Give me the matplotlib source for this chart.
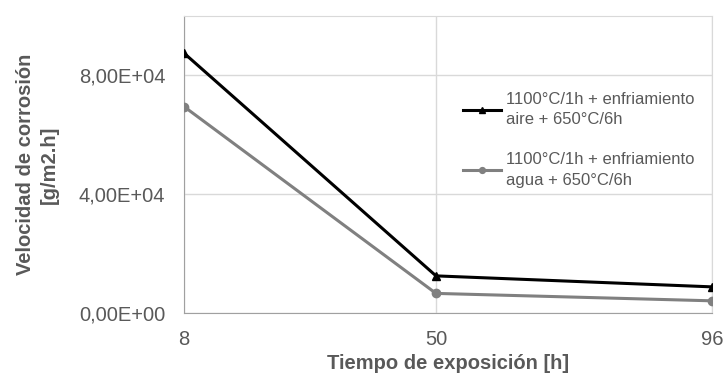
import matplotlib.pyplot as plt

plt.rcParams['font.family'] = ['Liberation Sans', 'DejaVu Sans']

tiempo = [8, 50, 96]
aire = [8.75e4, 1.25e4, 8.8e3]
agua = [6.95e4, 6.6e3, 4.1e3]
lab_aire = '1100°C/1h + enfriamiento\naire + 650°C/6h'
lab_agua = '1100°C/1h + enfriamiento\nagua + 650°C/6h'
yticks = [0, 4e4, 8e4]
ytick_labels = ['0,00E+00', '4,00E+04', '8,00E+04']

txt = '#595959'
grid = '#d9d9d9'

fig = plt.figure(figsize=(7.27, 3.81), dpi=100)
ax = fig.add_axes([184 / 727, 68 / 381, 528 / 727, 297 / 381])

ax.plot(tiempo, aire, color='black', lw=2.2, marker='^', ms=6, label=lab_aire, zorder=3)
ax.plot(tiempo, agua, color='#808080', lw=2.2, marker='o', ms=6, label=lab_agua, zorder=3)

ax.set_xlim(8, 96)
ax.set_ylim(0, 1e5)
ax.set_xticks(tiempo)
ax.set_yticks(yticks)
ax.set_yticklabels(ytick_labels)
ax.tick_params(length=0, labelsize=14.5, colors=txt)
ax.tick_params(axis='y', pad=13.5)
ax.tick_params(axis='x', pad=12)

ax.grid(True, color=grid, lw=1)
ax.set_axisbelow(True)
for s in ['top', 'right']:
    ax.spines[s].set_color(grid)
for s in ['left', 'bottom']:
    ax.spines[s].set_color('#a0a0a0')

ax.set_xlabel('Tiempo de exposición [h]', fontsize=14.5, fontweight='bold', color=txt, labelpad=4)
ax.set_ylabel('Velocidad de corrosión\n[g/m2.h]', fontsize=14.5, fontweight='bold', color=txt,
              linespacing=1.3)
ax.yaxis.set_label_coords(-0.237, 0.5)

leg = ax.legend(loc='upper left', bbox_to_anchor=(0.515, 0.767), frameon=False,
                fontsize=12, labelspacing=1.5, handlelength=2.3, handletextpad=0.3,
                markerscale=0.7, borderaxespad=0)
for t in leg.get_texts():
    t.set_color(txt)
    t.set_linespacing(1.45)

fig.savefig('out.png', dpi=100)
